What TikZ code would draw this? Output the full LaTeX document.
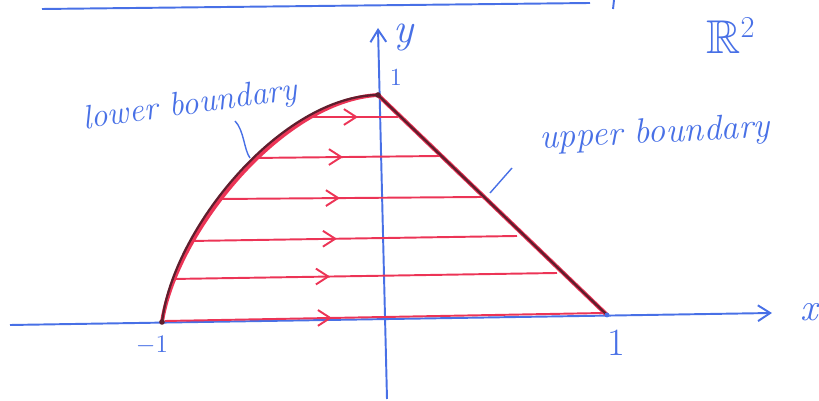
\documentclass[tikz,border=0pt]{standalone}
\usepackage{amsmath,amssymb}
\usepackage{tikz}
\usetikzlibrary{arrows.meta}
\definecolor{pen}{RGB}{72,112,230}
\definecolor{hatch}{RGB}{236,52,86}
\definecolor{rim}{RGB}{95,30,45}

\begin{document}
\begin{tikzpicture}[x=0.02cm, y=-0.02cm, >={Straight Barb[length=7pt,width=9pt]},
  ink/.style={pen, line width=1.1pt},
  flowline/.style={hatch, line width=1.1pt},
  hand/.style={pen, font=\fontsize{19}{22}\selectfont\itshape}]
\useasboundingbox (0,0) rectangle (819,401);

% Page edge line
\draw[ink] (42,9) -- (590,3);
\draw[ink] (614,0) -- (613,9);

% Axes
\coordinate (xs) at (10,325);
\coordinate (xe) at (772,313);
\coordinate (ys) at (387,399);
\coordinate (ye) at (378,28);
\draw[ink, ->] (xs) -- (xe);
\draw[ink, ->] (ys) -- (ye);
\node[hand, font=\fontsize{22}{24}\selectfont\itshape] (xlab) at (809,312) {x};
\node[hand, font=\fontsize{24}{26}\selectfont\itshape] (ylab) at (404,38) {y};
\node[hand, font=\fontsize{27}{30}\selectfont] (plane) at (731,36) {$\mathbb{R}^2$};

% Ticks
\node[hand, font=\fontsize{14}{16}\selectfont] (mone) at (152,345) {$-1$};
\node[hand, font=\fontsize{22}{24}\selectfont] (xone) at (616,343) {1};
\node[hand, font=\fontsize{14}{16}\selectfont] (yone) at (396,77) {1};

% Corners of the region
\coordinate (A) at (162,322);
\coordinate (B) at (378,95);
\coordinate (C) at (607,315);

% Horizontal flow lines with arrows
\foreach \yl/\xl/\yr/\xr/\xa in {321/165/313/603/332, 279/172/273/557/330,
    241/190/236/517/337, 199/220/197/482/340, 158/253/156/440/343, 117/313/117/398/358}
{
  \pgfmathsetmacro\ya{\yl+(\yr-\yl)*(\xa-\xl)/(\xr-\xl)}
  \draw[flowline] (\xl,\yl) -- (\xr,\yr);
  \draw[flowline, ->] (\xa-14,\ya) -- (\xa,\ya);
}

% Boundary of the region
\draw[hatch, line width=2.2pt] (A) .. controls (176,232) and (282,100) .. (B);
\draw[rim, line width=1.3pt] (A) .. controls (173,228) and (282,96) .. (B);
\draw[hatch, line width=2.4pt] (B) -- (C);
\draw[rim, line width=1.3pt] (B) -- (C);
\fill[rim] (A) circle (1.6pt);
\fill[rim] (B) circle (1.6pt);
\fill[pen] (C) circle (1.4pt);

% Labels with pointers
\node[hand, rotate=8] (lowlab) at (190,106) {lower boundary};
\node[hand, font=\fontsize{20}{23}\selectfont\itshape, rotate=3] (uplab) at (655,134) {upper boundary};
\coordinate (lowst) at (235,121);
\coordinate (lowend) at (250,158);
\coordinate (upst) at (512,168);
\coordinate (upend) at (490,193);
\draw[ink, line width=0.8pt] (lowst) .. controls (244,130) and (244,150) .. (lowend);
\draw[ink, line width=0.8pt] (upst) -- (upend);
\end{tikzpicture}
\end{document}
